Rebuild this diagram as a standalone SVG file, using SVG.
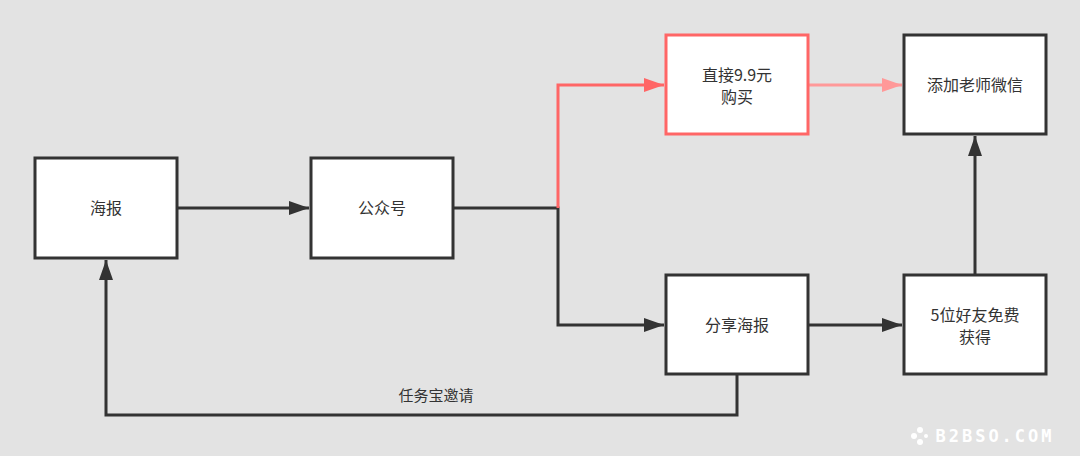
<svg xmlns="http://www.w3.org/2000/svg" width="1080" height="456" viewBox="0 0 1080 456">
<style>
.n{fill:#fff;stroke:#333;stroke-width:3}
.t{font-family:"Noto Sans CJK SC","Liberation Sans",sans-serif;font-size:16px;fill:#333;text-anchor:middle}
.c{fill:none;stroke:#333;stroke-width:3}
</style>
<defs>
<marker id="a" viewBox="0 0 20 14" refX="20" refY="7" markerWidth="20" markerHeight="14" orient="auto" markerUnits="userSpaceOnUse"><path d="M0,0L20,7L0,14z" fill="#333"/></marker>
<marker id="r" viewBox="0 0 20 14" refX="20" refY="7" markerWidth="20" markerHeight="14" orient="auto" markerUnits="userSpaceOnUse"><path d="M0,0L20,7L0,14z" fill="#FF6666"/></marker>
<marker id="p" viewBox="0 0 20 14" refX="20" refY="7" markerWidth="20" markerHeight="14" orient="auto" markerUnits="userSpaceOnUse"><path d="M0,0L20,7L0,14z" fill="#FF9999"/></marker>
</defs>
<rect width="1080" height="456" fill="#e3e3e3"/>
<g id="connectors">
<path class="c" d="M177,208H309" marker-end="url(#a)"/>
<path class="c" d="M453,208H558V325H664" marker-end="url(#a)"/>
<path class="c" d="M558,208V85H664" style="stroke:#FF6666" marker-end="url(#r)"/>
<path class="c" d="M808,85H902" style="stroke:#FF9999" marker-end="url(#p)"/>
<path class="c" d="M808,325H902" marker-end="url(#a)"/>
<path class="c" d="M975,275V136" marker-end="url(#a)"/>
<path class="c" d="M737,374V415H106V260" marker-end="url(#a)"/>
<text class="t" x="436" y="401" style="font-size:15px">任务宝邀请</text>
</g>
<g id="n1"><rect class="n" x="35" y="158" width="142" height="100"/><text class="t" x="106" y="214">海报</text></g>
<g id="n2"><rect class="n" x="311" y="158" width="142" height="100"/><text class="t" x="382" y="214">公众号</text></g>
<g id="n3"><rect class="n" x="666" y="35" width="142" height="99" style="stroke:#FF6666"/><text class="t" x="737" y="81">直接9.9元</text><text class="t" x="737" y="103">购买</text></g>
<g id="n4"><rect class="n" x="904" y="35" width="142" height="99"/><text class="t" x="975" y="91">添加老师微信</text></g>
<g id="n5"><rect class="n" x="666" y="275" width="142" height="99"/><text class="t" x="737" y="331">分享海报</text></g>
<g id="n6"><rect class="n" x="904" y="275" width="142" height="99"/><text class="t" x="975" y="321">5位好友免费</text><text class="t" x="975" y="343">获得</text></g>
<text x="995" y="442" style="font-family:'DejaVu Sans Mono',monospace;font-size:17px;font-weight:bold;fill:#fff;text-anchor:middle;letter-spacing:3px">B2BSO.COM</text>
<g fill="#fff"><circle cx="914" cy="436" r="3"/><circle cx="920" cy="430" r="3"/><circle cx="920" cy="442" r="3"/><circle cx="926" cy="436" r="2"/></g>
</svg>
